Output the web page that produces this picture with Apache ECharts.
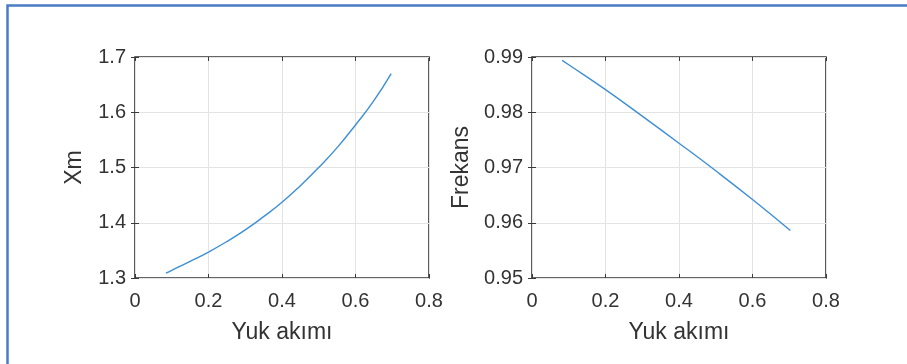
<!DOCTYPE html>
<html>
<head>
<meta charset="utf-8">
<script src="https://cdn.jsdelivr.net/npm/echarts@6/dist/echarts.min.js"></script>
<style>
html,body{margin:0;padding:0;background:#fff;}
#c{width:907px;height:364px;}
</style>
</head>
<body>
<div id="c"></div>
<script>
// Data
var xmLoad = [0.084, 0.1, 0.15, 0.2, 0.25, 0.3, 0.35, 0.4, 0.45, 0.5, 0.55, 0.6, 0.65, 0.697];
var xmValues = [1.309, 1.314, 1.330, 1.347, 1.366, 1.387, 1.411, 1.437, 1.467, 1.500, 1.536, 1.577, 1.621, 1.670];
var frLoad = [0.082, 0.1, 0.2, 0.3, 0.4, 0.5, 0.6, 0.703];
var frValues = [0.9894, 0.9886, 0.9841, 0.9793, 0.9744, 0.9694, 0.9642, 0.9586];
var xTicks = [0, 0.2, 0.4, 0.6, 0.8];
var xmTicks = [1.3, 1.4, 1.5, 1.6, 1.7];
var frTicks = [0.95, 0.96, 0.97, 0.98, 0.99];

var xName = 'Yuk akımı';
var leftYName = 'Xm';
var rightYName = 'Frekans';

var font = 'Liberation Sans, Arial, Helvetica, sans-serif';
var txt = '#333333';
var lineColor = '#3d8fd6';

function pairs(xs, ys) { return xs.map(function (x, i) { return [x, ys[i]]; }); }

function xAx(gi, ticks, pos, labels) {
  return {
    type: 'value', gridIndex: gi, position: pos,
    min: ticks[0], max: ticks[ticks.length - 1], interval: ticks[1] - ticks[0],
    name: labels ? xName : '', nameLocation: 'middle', nameGap: 43,
    nameTextStyle: { fontFamily: font, fontSize: 23, color: txt },
    axisLine: { show: false },
    axisTick: { show: true, inside: true, length: 4, lineStyle: { color: '#3a3a3a', width: 1 } },
    axisLabel: { show: labels, margin: 13, fontFamily: font, fontSize: 20, color: txt,
      formatter: function (v) { return String(+v.toFixed(2)); } },
    splitLine: { show: labels, lineStyle: { color: '#e3e3e3', width: 1 } }
  };
}
function yAx(gi, ticks, pos, labels, name, gap) {
  return {
    type: 'value', gridIndex: gi, position: pos,
    min: ticks[0], max: ticks[ticks.length - 1], interval: +(ticks[1] - ticks[0]).toFixed(4),
    name: labels ? name : '', nameLocation: 'middle', nameGap: gap,
    nameTextStyle: { fontFamily: font, fontSize: 23, color: txt },
    axisLine: { show: false },
    axisTick: { show: true, inside: true, length: 4, lineStyle: { color: '#3a3a3a', width: 1 } },
    axisLabel: { show: labels, margin: 9, fontFamily: font, fontSize: 20, color: txt,
      formatter: function (v) { return String(+v.toFixed(2)); } },
    splitLine: { show: labels, lineStyle: { color: '#e3e3e3', width: 1 } }
  };
}

var chart = echarts.init(document.getElementById('c'));
chart.setOption({
  animation: false,
  backgroundColor: '#fff',
  grid: [
    { left: 135, top: 57, width: 294, height: 221, show: true, borderColor: '#333333', borderWidth: 1.6, backgroundColor: '#fff' },
    { left: 532, top: 57, width: 294, height: 221, show: true, borderColor: '#333333', borderWidth: 1.6, backgroundColor: '#fff' }
  ],
  xAxis: [
    xAx(0, xTicks, 'bottom', true),
    xAx(0, xTicks, 'top', false),
    xAx(1, xTicks, 'bottom', true),
    xAx(1, xTicks, 'top', false)
  ],
  yAxis: [
    yAx(0, xmTicks, 'left', true, leftYName, 49),
    yAx(0, xmTicks, 'right', false, '', 0),
    yAx(1, frTicks, 'left', true, rightYName, 59),
    yAx(1, frTicks, 'right', false, '', 0)
  ],
  series: [
    { type: 'line', xAxisIndex: 0, yAxisIndex: 0, data: pairs(xmLoad, xmValues), smooth: true,
      showSymbol: false, lineStyle: { color: lineColor, width: 1.4 } },
    { type: 'line', xAxisIndex: 2, yAxisIndex: 2, data: pairs(frLoad, frValues), smooth: true,
      showSymbol: false, lineStyle: { color: lineColor, width: 1.4 } }
  ],
  graphic: [
    { type: 'rect', shape: { x: 7.5, y: 5.5, width: 1000, height: 500 },
      style: { fill: 'none', stroke: '#4a7cc6', lineWidth: 2.5 }, silent: true, z: 100 }
  ]
});
</script>
</body>
</html>
